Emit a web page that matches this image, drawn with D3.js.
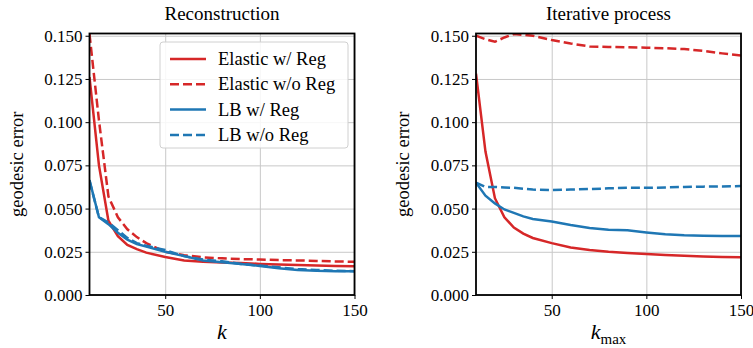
<!DOCTYPE html>
<html>
  <head>
    <meta charset="utf-8">
    <script src="https://d3js.org/d3.v7.min.js"></script>
    <style type="text/css">
      body { margin: 0; background: #ffffff; }
      svg text { font-family: 'Liberation Serif', serif; fill: #000; }
      .grid line { stroke: #c8c8c8; stroke-width: 1; }
      .grid path { stroke-width: 0; }
      .axis path { display: none; }
      .axis line { stroke: #000; stroke-width: 1; }
      .axis text { font-size: 17px; }
      .frame { fill: none; stroke: #000; stroke-width: 1.8; }
      .line { fill: none; stroke-width: 2.5; }
    </style>
  </head>
  <body>
  <script type="text/javascript">
    // data
    var kValues = [10, 15, 20, 25, 30, 35, 40, 50, 60, 70, 80, 90, 100, 110, 120, 130, 140, 150];
    var yTicks = [0, 0.025, 0.05, 0.075, 0.1, 0.125, 0.15];
    var xTicks = [50, 100, 150];
    var seriesNames = ["Elastic w/ Reg", "Elastic w/o Reg", "LB w/ Reg", "LB w/o Reg"];

    // Reconstruction
    var recElasticReg   = [0.126, 0.075, 0.043, 0.034, 0.029, 0.0265, 0.0245, 0.022, 0.020, 0.0193, 0.0188, 0.0185, 0.018, 0.0176, 0.0173, 0.017, 0.0168, 0.0166];
    var recElasticNoReg = [0.151, 0.101, 0.057, 0.045, 0.038, 0.0335, 0.030, 0.025, 0.023, 0.0218, 0.0212, 0.0208, 0.0205, 0.0202, 0.020, 0.0197, 0.0194, 0.0192];
    var recLBReg        = [0.0665, 0.045, 0.041, 0.036, 0.032, 0.0295, 0.028, 0.025, 0.0225, 0.020, 0.019, 0.018, 0.0168, 0.0155, 0.0145, 0.014, 0.0138, 0.0137];
    var recLBNoReg      = [0.066, 0.045, 0.042, 0.0375, 0.033, 0.030, 0.0285, 0.026, 0.0225, 0.0205, 0.0195, 0.018, 0.017, 0.016, 0.015, 0.0145, 0.014, 0.0138];

    // Iterative process
    var itElasticReg   = [0.128, 0.083, 0.056, 0.045, 0.039, 0.0355, 0.033, 0.030, 0.0275, 0.026, 0.025, 0.0243, 0.0237, 0.0232, 0.0227, 0.0223, 0.022, 0.0218];
    var itElasticNoReg = [0.150, 0.148, 0.1465, 0.149, 0.151, 0.1505, 0.150, 0.1475, 0.1455, 0.1438, 0.1435, 0.1433, 0.1431, 0.1428, 0.1423, 0.1412, 0.1398, 0.1385];
    var itLBReg        = [0.065, 0.0575, 0.053, 0.0495, 0.0475, 0.0455, 0.044, 0.0425, 0.0405, 0.0388, 0.0378, 0.0374, 0.0362, 0.0352, 0.0346, 0.0343, 0.0342, 0.0341];
    var itLBNoReg      = [0.065, 0.0625, 0.0625, 0.0622, 0.062, 0.0615, 0.061, 0.0607, 0.061, 0.0613, 0.0617, 0.062, 0.062, 0.0622, 0.0625, 0.0627, 0.0628, 0.063];

    var RED = "#d62728", BLUE = "#1f77b4";
    var styles = [
      {color: RED, dash: null},
      {color: RED, dash: "9,4"},
      {color: BLUE, dash: null},
      {color: BLUE, dash: "9,4"}
    ];

    var panels = [
      {title: "Reconstruction", left: 89.5, right: 354.5, xlabel: "k", sub: null, legend: true,
       data: [recElasticReg, recElasticNoReg, recLBReg, recLBNoReg]},
      {title: "Iterative process", left: 476, right: 741, xlabel: "k", sub: "max", legend: false,
       data: [itElasticReg, itElasticNoReg, itLBReg, itLBNoReg]}
    ];

    var plotTop = 33.5, plotBottom = 295;

    var svg = d3.select("body").append("svg")
        .attr("width", 753)
        .attr("height", 348);

    var yScale = d3.scaleLinear().domain([0, 0.1513]).range([plotBottom, plotTop]);

    panels.forEach(function(p, pi) {
      var xScale = d3.scaleLinear().domain([10, 150]).range([p.left, p.right]);
      var g = svg.append("g");

      g.append("clipPath").attr("id", "clip" + pi)
        .append("rect")
          .attr("x", p.left).attr("y", plotTop)
          .attr("width", p.right - p.left).attr("height", plotBottom - plotTop);

      // grid
      g.append("g").attr("class", "grid")
          .attr("transform", "translate(0," + plotBottom + ")")
          .call(d3.axisBottom(xScale).tickValues(xTicks).tickSize(-(plotBottom - plotTop)).tickFormat(""));
      g.append("g").attr("class", "grid")
          .attr("transform", "translate(" + p.left + ",0)")
          .call(d3.axisLeft(yScale).tickValues(yTicks).tickSize(-(p.right - p.left)).tickFormat(""));

      // lines
      var line = d3.line()
          .x(function(d, i) { return xScale(kValues[i]); })
          .y(function(d) { return yScale(d); });

      p.data.forEach(function(values, si) {
        g.append("path")
            .datum(values)
            .attr("class", "line")
            .attr("clip-path", "url(#clip" + pi + ")")
            .attr("stroke", styles[si].color)
            .attr("stroke-dasharray", styles[si].dash)
            .attr("d", line);
      });

      // axes
      g.append("g").attr("class", "axis")
          .attr("transform", "translate(0," + plotBottom + ")")
          .call(d3.axisBottom(xScale).tickValues(xTicks).tickSize(4).tickPadding(5));
      g.append("g").attr("class", "axis")
          .attr("transform", "translate(" + p.left + ",0)")
          .call(d3.axisLeft(yScale).tickValues(yTicks).tickSize(4).tickPadding(3).tickFormat(d3.format(".3f")));

      g.append("rect").attr("class", "frame")
          .attr("x", p.left).attr("y", plotTop)
          .attr("width", p.right - p.left).attr("height", plotBottom - plotTop);

      // titles and labels
      var cx = (p.left + p.right) / 2;
      g.append("text")
          .attr("x", cx).attr("y", 20)
          .attr("text-anchor", "middle")
          .style("font-size", "19px")
          .text(p.title);

      g.append("text")
          .attr("transform", "translate(" + (p.left - 67) + "," + ((plotTop + plotBottom) / 2) + ") rotate(-90)")
          .attr("text-anchor", "middle")
          .style("font-size", "18.5px")
          .text("geodesic error");

      var xl = g.append("text")
          .attr("x", cx).attr("y", 339)
          .attr("text-anchor", "middle")
          .style("font-size", "22px");
      xl.append("tspan").style("font-style", "italic").text(p.xlabel);
      if (p.sub) {
        xl.append("tspan").attr("dy", 5).style("font-size", "15px").text(p.sub);
      }

      // legend
      if (p.legend) {
        var lg = g.append("g");
        lg.append("rect")
            .attr("x", 160).attr("y", 42)
            .attr("width", 188).attr("height", 106)
            .attr("rx", 3)
            .attr("fill", "#ffffff").attr("fill-opacity", 0.85)
            .attr("stroke", "#d0d0d0");
        seriesNames.forEach(function(name, si) {
          var yy = 59 + si * 25.3;
          lg.append("line")
              .attr("x1", 170).attr("x2", 206)
              .attr("y1", yy).attr("y2", yy)
              .attr("stroke", styles[si].color)
              .attr("stroke-width", 2.5)
              .attr("stroke-dasharray", styles[si].dash);
          lg.append("text")
              .attr("x", 218).attr("y", yy + 6)
              .style("font-size", "18.5px")
              .text(name);
        });
      }
    });
  </script>
  </body>
</html>
